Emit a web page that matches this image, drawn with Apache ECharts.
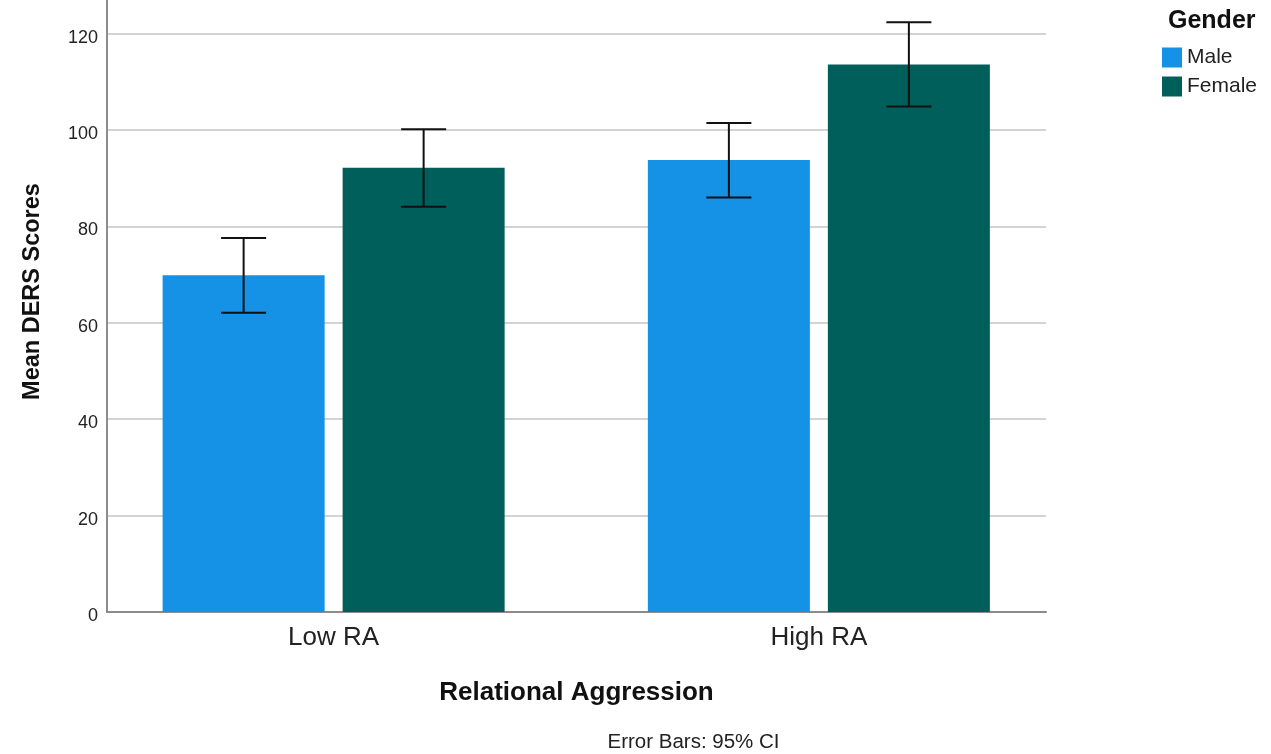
<!DOCTYPE html>
<html>
<head>
<meta charset="utf-8">
<script src="https://cdn.jsdelivr.net/npm/echarts@6/dist/echarts.min.js"></script>
<style>html,body{margin:0;padding:0;background:#fff}#c{width:1271px;height:754px}</style>
</head>
<body>
<div id="c"></div>
<script>
const categories = ['Low RA', 'High RA'];
const genders = ['Male', 'Female'];
const maleMeans = [69.9, 93.8];
const femaleMeans = [92.2, 113.6];
const maleCILow = [62.1, 86.0];
const maleCIHigh = [77.6, 101.5];
const femaleCILow = [84.1, 104.9];
const femaleCIHigh = [100.2, 122.4];
const yTicks = [0, 20, 40, 60, 80, 100, 120];

const FONT = '"Liberation Sans", Arial, sans-serif';
const maleColor = '#1591e6';
const femaleColor = '#005e5b';
const BAR_W = 162, BAR_GAP = 18;
const OFF = (BAR_W + BAR_GAP) / 2;

function errSeries(name, lows, highs, offset) {
  return {
    type: 'custom', name: name + ' CI', xAxisIndex: 1, yAxisIndex: 1, z: 10,
    data: categories.map((c, i) => [i, lows[i], highs[i]]),
    renderItem: function (params, api) {
      const lo = api.coord([api.value(0), api.value(1)]);
      const hi = api.coord([api.value(0), api.value(2)]);
      const x = lo[0] + offset;
      const cap = 22.5;
      const st = { stroke: '#111111', lineWidth: 2 };
      return { type: 'group', children: [
        { type: 'line', shape: { x1: x, y1: lo[1], x2: x, y2: hi[1] }, style: st },
        { type: 'line', shape: { x1: x - cap, y1: lo[1], x2: x + cap, y2: lo[1] }, style: st },
        { type: 'line', shape: { x1: x - cap, y1: hi[1], x2: x + cap, y2: hi[1] }, style: st }
      ]};
    }
  };
}

const chart = echarts.init(document.getElementById('c'));
chart.setOption({
  animation: false,
  backgroundColor: '#ffffff',
  textStyle: { fontFamily: FONT },
  title: [{
    text: 'Gender', left: 1163, top: 4,
    textStyle: { fontFamily: FONT, fontSize: 25, fontWeight: 'bold', color: '#111' }
  }],
  legend: {
    data: genders, orient: 'vertical', left: 1162, top: 47, padding: 0,
    itemWidth: 20, itemHeight: 20, itemGap: 8, icon: 'rect',
    textStyle: { fontFamily: FONT, fontSize: 21, color: '#222', padding: [2, 0, 0, 0] }
  },
  grid: [
    { left: 107, top: 0, width: 939, height: 612 },
    { left: 91, top: 0, width: 970.5, height: 612 }
  ],
  xAxis: [
    {
      gridIndex: 0, type: 'category', data: categories,
      axisLine: { lineStyle: { color: '#8c8c8c', width: 2 } },
      axisTick: { show: false }, axisLabel: { show: false },
      name: 'Relational Aggression', nameLocation: 'middle', nameGap: 68,
      nameTextStyle: { fontFamily: FONT, fontSize: 26, fontWeight: 'bold', color: '#111' }
    },
    {
      gridIndex: 1, type: 'category', data: categories,
      axisLine: { show: false }, axisTick: { show: false },
      axisLabel: { fontFamily: FONT, fontSize: 26, color: '#222', margin: 13 }
    }
  ],
  yAxis: [
    {
      gridIndex: 0, type: 'value', min: 0, max: 127, interval: 20,
      axisLine: { show: true, lineStyle: { color: '#8c8c8c', width: 2 } },
      axisTick: { show: false },
      axisLabel: {
        fontFamily: FONT, fontSize: 18, color: '#222', margin: 9, showMaxLabel: false,
        verticalAlign: 'top', lineHeight: 8,
        formatter: v => (yTicks.indexOf(v) >= 0 ? String(v) : '')
      },
      splitLine: { show: true, showMaxLine: false, showMinLine: false, lineStyle: { color: '#d3d3d3', width: 2 } }
    },
    { gridIndex: 1, type: 'value', min: 0, max: 127, interval: 20, show: false }
  ],
  graphic: [
    {
      type: 'text', x: 33, y: 291.5, rotation: Math.PI / 2,
      style: { text: 'Mean DERS Scores', fontFamily: FONT, fontSize: 23.5, fontWeight: 'bold',
        fill: '#111', align: 'center', verticalAlign: 'middle' }
    },
    {
      type: 'text', x: 693.5, y: 742.5,
      style: { text: 'Error Bars: 95% CI', fontFamily: FONT, fontSize: 20.5,
        fill: '#222', align: 'center', verticalAlign: 'middle' }
    }
  ],
  series: [
    { type: 'bar', name: 'Male', xAxisIndex: 1, yAxisIndex: 1, data: maleMeans,
      barWidth: BAR_W, barGap: (BAR_GAP / BAR_W * 100).toFixed(2) + '%',
      itemStyle: { color: maleColor } },
    { type: 'bar', name: 'Female', xAxisIndex: 1, yAxisIndex: 1, data: femaleMeans,
      barWidth: BAR_W, itemStyle: { color: femaleColor } },
    errSeries('Male', maleCILow, maleCIHigh, -OFF),
    errSeries('Female', femaleCILow, femaleCIHigh, OFF)
  ]
});
</script>
</body>
</html>
